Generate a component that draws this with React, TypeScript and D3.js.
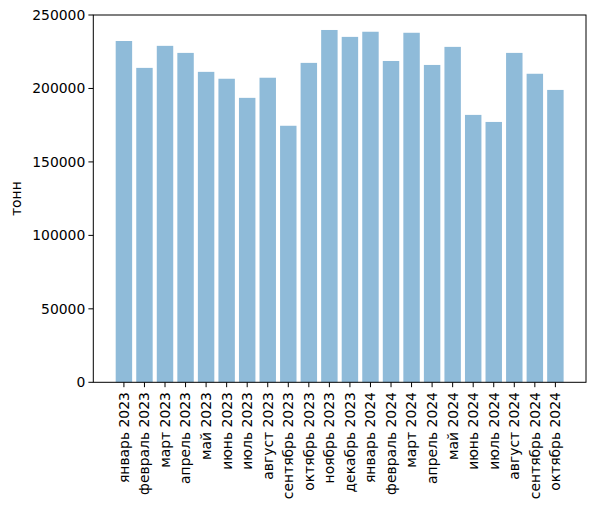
import { useEffect } from 'react';
import * as d3 from 'd3';

const months = [
  'январь 2023', 'февраль 2023', 'март 2023', 'апрель 2023', 'май 2023', 'июнь 2023',
  'июль 2023', 'август 2023', 'сентябрь 2023', 'октябрь 2023', 'ноябрь 2023', 'декабрь 2023',
  'январь 2024', 'февраль 2024', 'март 2024', 'апрель 2024', 'май 2024', 'июнь 2024',
  'июль 2024', 'август 2024', 'сентябрь 2024', 'октябрь 2024',
];

const tonnes = [
  232300, 214000, 229000, 224200, 211300, 206600,
  193600, 207300, 174600, 217400, 239800, 235100,
  238600, 218700, 237900, 216000, 228300, 182000,
  177200, 224200, 210000, 199000,
];

const yTicks = [0, 50000, 100000, 150000, 200000, 250000];

const W = 598;
const H = 509;
const margin = { left: 93.3, right: 12, top: 15, bottom: 126.7 };
const font = 'DejaVu Sans, sans-serif';

export default function App() {
  useEffect(() => {
    document.body.style.margin = '0';
  }, []);

  const innerW = W - margin.left - margin.right;
  const innerH = H - margin.top - margin.bottom;

  const n = months.length;
  const span = n - 1 + 0.8;
  const pad = span * 0.05;
  const x = d3.scaleLinear().domain([-0.4 - pad, n - 1 + 0.4 + pad]).range([0, innerW]);
  const y = d3.scaleLinear().domain([0, 250000]).range([innerH, 0]);
  const bw = x(0.8) - x(0);

  return (
    <svg width={W} height={H} style={{ display: 'block', background: '#fff' }}>
      <g transform={`translate(${margin.left},${margin.top})`}>
        {tonnes.map((v, i) => (
          <rect
            key={months[i]}
            x={x(i - 0.4)}
            y={y(v)}
            width={bw}
            height={innerH - y(v)}
            fill="#1f77b4"
            fillOpacity={0.5}
          />
        ))}
        <rect x={0} y={0} width={innerW} height={innerH} fill="none" stroke="#000" strokeWidth={1} />
        {yTicks.map((t) => (
          <g key={t} transform={`translate(0,${y(t)})`}>
            <line x1={-4.9} x2={0} stroke="#000" strokeWidth={1} />
            <text x={-8} dy="0.35em" textAnchor="end" fontFamily={font} fontSize={13.9} fill="#000">
              {t}
            </text>
          </g>
        ))}
        {months.map((m, i) => (
          <g key={m} transform={`translate(${x(i)},${innerH})`}>
            <line y1={0} y2={4.9} stroke="#000" strokeWidth={1} />
            <text
              transform="translate(0,9.8) rotate(-90)"
              dy="0.35em"
              textAnchor="end"
              fontFamily={font}
              fontSize={13.9}
              fill="#000"
            >
              {m}
            </text>
          </g>
        ))}
        <text
          transform={`translate(${-72},${innerH / 2}) rotate(-90)`}
          textAnchor="middle"
          fontFamily={font}
          fontSize={13.9}
          fill="#000"
        >
          тонн
        </text>
      </g>
    </svg>
  );
}
